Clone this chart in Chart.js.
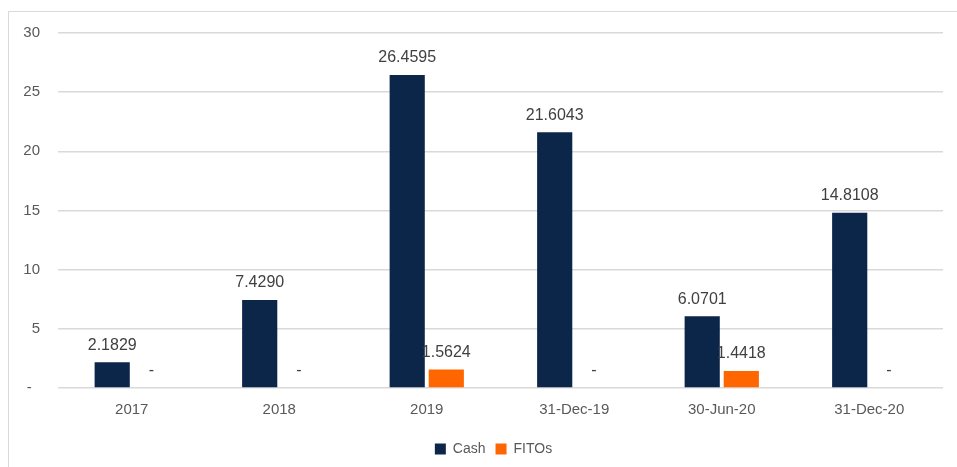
<!DOCTYPE html>
<html>
<head>
<meta charset="utf-8">
<script src="https://cdn.jsdelivr.net/npm/chart.js@4"></script>
<style>
    html, body { margin: 0; padding: 0; background: #fff; overflow: hidden; }
    #frame { position: absolute; left: 8px; top: 11px; width: 1000px; height: 600px; border: 1px solid #d9d9d9; }
    #wrap { position: absolute; left: 0; top: 0; width: 957px; height: 467px; }
</style>
</head>
<body>
<div id="frame"></div>
<div id="wrap"><canvas id="chart" width="957" height="467"></canvas></div>
<script>
const categories = ['2017', '2018', '2019', '31-Dec-19', '30-Jun-20', '31-Dec-20'];
const cashValues = [2.1829, 7.4290, 26.4595, 21.6043, 6.0701, 14.8108];
const fitosValues = [0, 0, 1.5624, 0, 1.4418, 0];
const yTicks = [0, 5, 10, 15, 20, 25, 30];

const navy = '#0C264A';
const orange = '#FF6600';
const textGrey = '#595959';
const fontFamily = '"Liberation Sans", Arial, sans-serif';

// Excel-style value labels above each bar, '-' for zero
const barLabels = {
    id: 'barLabels',
    afterDatasetsDraw(chart) {
        const ctx = chart.ctx;
        ctx.save();
        ctx.font = '16px ' + fontFamily;
        ctx.fillStyle = '#404040';
        ctx.textAlign = 'center';
        ctx.textBaseline = 'middle';
        chart.data.datasets.forEach((ds, i) => {
            chart.getDatasetMeta(i).data.forEach((bar, j) => {
                const v = ds.data[j];
                const text = v === 0 ? '-' : v.toFixed(4);
                ctx.fillText(text, bar.x, bar.y - 17);
            });
        });
        ctx.restore();
    }
};

// legend sits a bit right of the canvas centre, like the Excel original
const legendShift = {
    id: 'legendShift',
    beforeDraw(chart) {
        const lg = chart.legend;
        if (!lg._shifted) {
            lg.left += 22;
            lg.right += 22;
            lg._shifted = true;
        }
    }
};

new Chart(document.getElementById('chart'), {
    type: 'bar',
    data: {
        labels: categories,
        datasets: [{
            label: 'Cash',
            data: cashValues,
            backgroundColor: navy,
            barPercentage: 0.9,
            categoryPercentage: 0.53
        }, {
            label: 'FITOs',
            data: fitosValues,
            backgroundColor: orange,
            barPercentage: 0.9,
            categoryPercentage: 0.53
        }]
    },
    options: {
        responsive: false,
        animation: false,
        layout: {
            padding: { left: 0, right: 14, top: 33, bottom: 1 }
        },
        plugins: {
            legend: {
                position: 'bottom',
                labels: {
                    boxWidth: 11,
                    boxHeight: 11,
                    padding: 10,
                    color: textGrey,
                    font: { family: fontFamily, size: 14 }
                }
            },
            tooltip: { enabled: false }
        },
        scales: {
            y: {
                min: 0,
                max: 30,
                afterBuildTicks: function(scale) {
                    scale.ticks = yTicks.map(v => ({ value: v }));
                },
                afterFit: function(scale) {
                    scale.width = 58;
                },
                grid: {
                    color: '#d9d9d9',
                    lineWidth: 1.5,
                    drawTicks: false
                },
                border: { display: false },
                ticks: {
                    padding: 18,
                    color: textGrey,
                    font: { family: fontFamily, size: 15 },
                    callback: function(v) {
                        return v === 0 ? '-  ' : v;
                    }
                }
            },
            x: {
                grid: { display: false },
                border: { display: false },
                afterFit: function(scale) {
                    scale.height = 44;
                },
                ticks: {
                    padding: 5,
                    maxRotation: 0,
                    color: textGrey,
                    font: { family: fontFamily, size: 15 }
                }
            }
        }
    },
    plugins: [barLabels, legendShift]
});
</script>
</body>
</html>
